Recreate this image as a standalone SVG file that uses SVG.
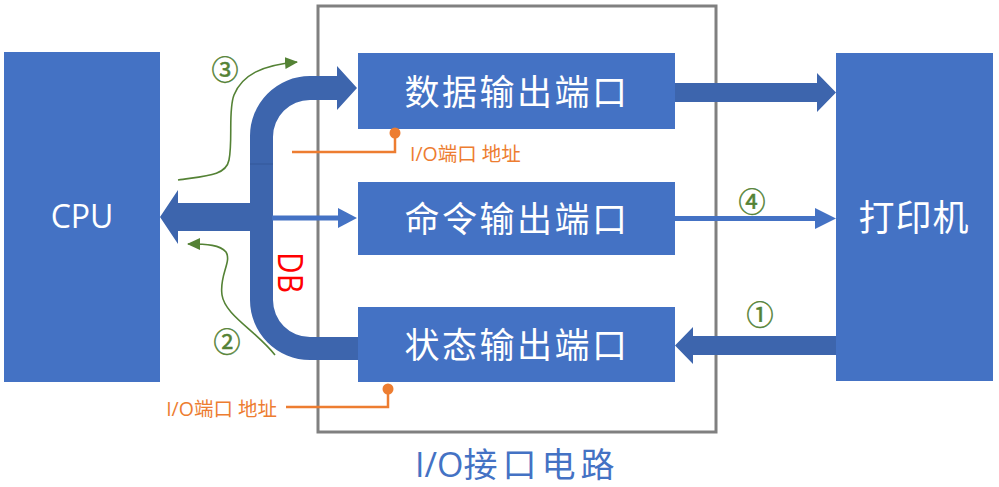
<svg xmlns="http://www.w3.org/2000/svg" width="999" height="487" viewBox="0 0 999 487">
<style>
.box{fill:#4472C4;}
.wt{fill:#FFFFFF;font-family:"Open Sans","Noto Sans CJK SC",sans-serif;}
.port{font-size:35px;letter-spacing:2.5px;text-anchor:middle;dominant-baseline:central;}
.bus{fill:#3D65AD;}
.thin{stroke:#4472C4;stroke-width:5;fill:none;}
.thinhead{fill:#4472C4;}
.org{stroke:#ED7D31;stroke-width:2.5;fill:none;}
.orgdot{fill:#ED7D31;}
.orgtxt{fill:#ED7D31;font-family:"Open Sans","Noto Sans CJK SC",sans-serif;font-size:19.5px;}
.grn{stroke:#548235;stroke-width:1.6;fill:none;marker-end:url(#ga);}
.num{fill:#548235;font-family:"Noto Sans CJK SC",sans-serif;font-size:27px;text-anchor:middle;dominant-baseline:central;stroke:#548235;stroke-width:0.5;}
</style>
<defs>
<marker id="ga" markerUnits="userSpaceOnUse" markerWidth="14" markerHeight="12" refX="12" refY="6" orient="auto">
<path d="M0,0 L13,6 L0,12 Z" fill="#548235"/>
</marker>
</defs>
<rect width="999" height="487" fill="#FFFFFF"/>

<g id="io-frame">
<rect x="318" y="6" width="398" height="426" fill="none" stroke="#808080" stroke-width="3"/>
<text x="415" y="477" fill="#4472C4" font-family="Open Sans, Noto Sans CJK SC, sans-serif" font-size="34">I/O<tspan letter-spacing="5">接口电路</tspan></text>
</g>

<g id="connectors">
<path class="bus" d="M359,360 L310,360 A60,60 0 0 1 250,300 L250,137 A60,60 0 0 1 310,76 L337,76 L337,66 L357,88 L337,110 L337,100 L310,100 A37,37 0 0 0 273,137 L273,300 A37,37 0 0 0 310,337 L359,337 Z"/>
<line x1="250" y1="164" x2="273" y2="164" stroke="#2F528F" stroke-width="1" opacity="0.6"/>
<polygon class="bus" points="251,203 178,203 178,190 160,217 178,244 178,231 251,231"/>
<line class="thin" x1="272" y1="218" x2="340" y2="218"/>
<polygon class="thinhead" points="338,208 357,218 338,228"/>
<polygon class="bus" points="675,83 817,83 817,73 836,92.5 817,112 817,102 675,102"/>
<line class="thin" x1="675" y1="218.5" x2="817" y2="218.5"/>
<polygon class="thinhead" points="815,208 836,218.5 815,229"/>
<polygon class="bus" points="837,336 693,336 693,327 675,345.5 693,364 693,355 837,355"/>
<path class="grn" d="M178,180 C205,176 226,176 229,160 C233,140 228,110 234,95 C242,75 262,65 297,62"/>
<path class="grn" d="M275,355 C255,330 225,315 222,295 C219,275 232,262 226,252 C220,245 208,244 188,244"/>
<polyline class="org" points="395,133 395,152 292,152"/>
<polyline class="org" points="388,389 388,407 286,407"/>
</g>

<g id="cpu">
<rect class="box" x="4" y="52" width="156" height="330"/>
<text class="wt" x="82" y="228" font-size="32" text-anchor="middle">CPU</text>
</g>

<g id="printer">
<rect class="box" x="836" y="53" width="157" height="328"/>
<text class="wt" x="914" y="217" font-size="36" text-anchor="middle" dominant-baseline="central" letter-spacing="1">打印机</text>
</g>

<g id="data-port">
<rect class="box" x="358" y="53" width="317" height="76"/>
<text class="wt port" x="517" y="91">数据输出端口</text>
</g>

<g id="cmd-port">
<rect class="box" x="358" y="182" width="317" height="73"/>
<text class="wt port" x="517" y="218.5">命令输出端口</text>
</g>

<g id="status-port">
<rect class="box" x="358" y="307" width="317" height="75"/>
<text class="wt port" x="517" y="344.5">状态输出端口</text>
</g>

<g id="labels">
<text x="278" y="252" transform="rotate(90 278 252)" fill="#FF0000" font-family="Open Sans, sans-serif" font-size="34" textLength="41" lengthAdjust="spacingAndGlyphs">DB</text>
<circle class="orgdot" cx="395" cy="133" r="5.5"/>
<text class="orgtxt" x="410" y="161">I/O端口 地址</text>
<circle class="orgdot" cx="388" cy="389" r="5.5"/>
<text class="orgtxt" x="277" y="416" text-anchor="end">I/O端口 地址</text>
<text class="num" x="225" y="68">③</text>
<text class="num" x="227" y="340">②</text>
<text class="num" x="752" y="200">④</text>
<text class="num" x="760" y="313">①</text>
</g>
</svg>
